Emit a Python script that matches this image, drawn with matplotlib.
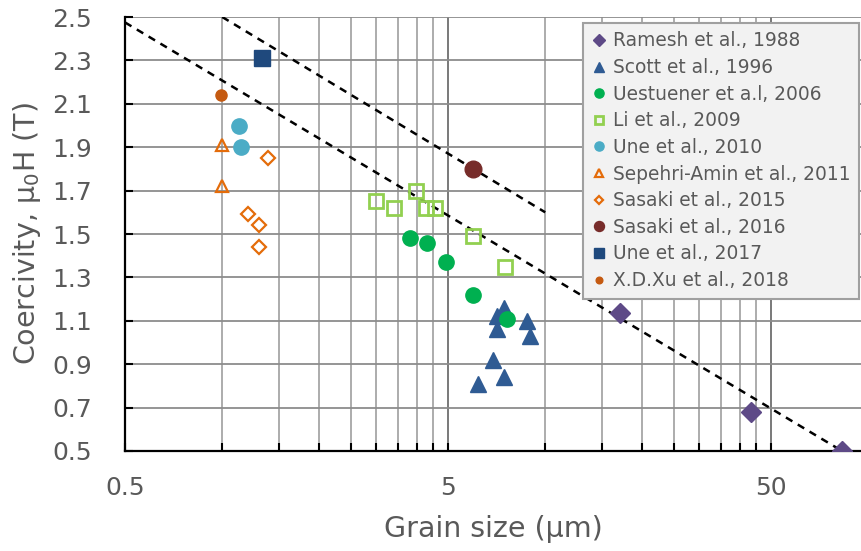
import numpy as np
import matplotlib
matplotlib.use("Agg")
import matplotlib.pyplot as plt
from matplotlib.ticker import FixedLocator, FuncFormatter, NullFormatter

# data (grain size in um, coercivity in T)
ramesh_x = [17.0, 43.3, 83.0]
ramesh_y = [1.135, 0.68, 0.50]
scott_x = [7.45, 7.07, 7.07, 8.76, 8.97, 6.9, 7.45, 6.2]
scott_y = [1.16, 1.12, 1.06, 1.10, 1.03, 0.92, 0.84, 0.81]
uest_x = [3.81, 4.31, 4.92, 5.98, 7.6]
uest_y = [1.48, 1.46, 1.37, 1.22, 1.11]
li_x = [2.99, 3.40, 3.98, 4.27, 4.55, 5.98, 7.51]
li_y = [1.65, 1.62, 1.70, 1.62, 1.62, 1.49, 1.35]
une10_x = [1.13, 1.14]
une10_y = [2.00, 1.90]
sep_x = [1.0, 1.0]
sep_y = [1.91, 1.72]
sas15_x = [1.39, 1.20, 1.30, 1.30]
sas15_y = [1.85, 1.59, 1.54, 1.44]
sas16_x = [5.98]
sas16_y = [1.80]
une17_x = [1.33]
une17_y = [2.31]
xu_x = [0.99]
xu_y = [2.14]

# guide lines
line1_x = [0.5, 83.0]
line1_y = [2.475, 0.5]
line2_x = [1.0, 10.0]
line2_y = [2.5, 1.6]

txt = '#595959'
plt.rcParams['font.family'] = 'DejaVu Sans'

fig = plt.figure(figsize=(8.61, 5.51), dpi=100)
ax = fig.add_axes([125/861, 100/551, 736/861, 434/551])

ax.set_xscale('log')
ax.set_xlim(0.5, 95)
ax.set_ylim(0.5, 2.5)

major = [0.5, 5, 50]
minor = [0.5*k*10**n for n in range(3) for k in range(2, 10)]
ax.xaxis.set_major_locator(FixedLocator(major))
ax.xaxis.set_minor_locator(FixedLocator(minor))
ax.xaxis.set_major_formatter(FuncFormatter(lambda v, p: '%g' % v))
ax.xaxis.set_minor_formatter(NullFormatter())
ax.set_yticks(np.arange(0.5, 2.51, 0.2))
ax.yaxis.set_major_formatter(FuncFormatter(lambda v, p: '%.1f' % v))

ax.grid(True, which='major', axis='y', color='#8c8c8c', lw=1.3)
ax.grid(True, which='major', axis='x', color='#6e6e6e', lw=1.3)
ax.grid(True, which='minor', axis='x', color='#a6a6a6', lw=1.3)
ax.set_axisbelow(True)

for s in ['top', 'right']:
    ax.spines[s].set_visible(False)
for s in ['left', 'bottom']:
    ax.spines[s].set_linewidth(1.6)
    ax.spines[s].set_color('black')

ax.tick_params(which='both', direction='in', length=6, width=1.5, colors='black',
               labelcolor=txt, labelsize=18)
ax.tick_params(axis='x', which='major', pad=18)
ax.tick_params(axis='y', pad=24)

ax.plot(line1_x, line1_y, ls=(0, (3, 2.5)), color='black', lw=1.8, zorder=2)
ax.plot(line2_x, line2_y, ls=(0, (3, 2.5)), color='black', lw=1.8, zorder=2)

ms = 11
ax.plot(ramesh_x, ramesh_y, 'D', color='#5e4a87', ms=10, ls='none', label='Ramesh et al., 1988', zorder=3)
ax.plot(scott_x, scott_y, '^', color='#2f5b93', ms=ms, ls='none', label='Scott et al., 1996', zorder=3)
ax.plot(uest_x, uest_y, 'o', color='#00b050', ms=ms, ls='none', label='Uestuener et a.l, 2006', zorder=3)
ax.plot(li_x, li_y, 's', mfc='none', mec='#92d050', mew=2, ms=10, ls='none', label='Li et al., 2009', zorder=3)
ax.plot(une10_x, une10_y, 'o', color='#4bacc6', ms=ms, ls='none', label='Une et al., 2010', zorder=3)
ax.plot(sep_x, sep_y, '^', mfc='none', mec='#e46c0a', mew=1.6, ms=9, ls='none', label='Sepehri-Amin et al., 2011', zorder=3)
ax.plot(sas15_x, sas15_y, 'D', mfc='none', mec='#e46c0a', mew=1.6, ms=7.5, ls='none', label='Sasaki et al., 2015', zorder=3)
ax.plot(sas16_x, sas16_y, 'o', color='#772c2a', ms=12, ls='none', label='Sasaki et al., 2016', zorder=3)
ax.plot(une17_x, une17_y, 's', color='#1f497d', ms=11, ls='none', label='Une et al., 2017', zorder=3)
ax.plot(xu_x, xu_y, 'o', color='#c55a11', ms=8, ls='none', label='X.D.Xu et al., 2018', zorder=3)

ax.set_xlabel('Grain size (µm)', fontsize=20.5, color=txt, labelpad=11)
ax.set_ylabel('Coercivity, μ$_0$H (T)', fontsize=20.5, color=txt, labelpad=6)

leg = ax.legend(loc='upper right', bbox_to_anchor=(0.997, 0.986), borderaxespad=0,
                fontsize=13.4, markerscale=0.6, handlelength=0.8, handletextpad=0.35,
                labelspacing=0.41, borderpad=0.45, fancybox=False, framealpha=1,
                facecolor='#f2f2f2', edgecolor='#a0a0a0')
for t in leg.get_texts():
    t.set_color(txt)
leg.get_frame().set_linewidth(1.5)

fig.savefig('out.png', dpi=100)
